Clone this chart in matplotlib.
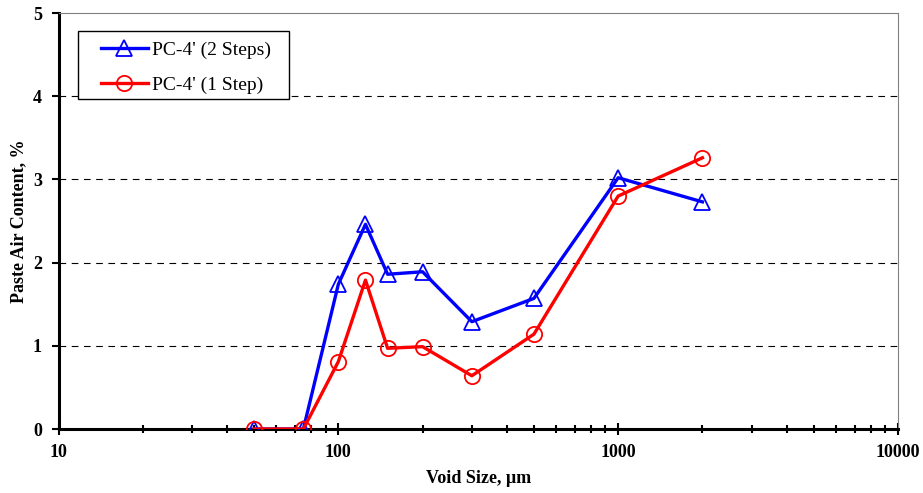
import matplotlib

matplotlib.use("Agg")
import matplotlib.pyplot as plt
from matplotlib.patches import Rectangle
from matplotlib.ticker import LogLocator, FixedLocator, NullFormatter

plt.rcParams["font.family"] = ["Liberation Serif", "DejaVu Serif"]

# data
void_size = [50, 75, 100, 125, 150, 200, 300, 500, 1000, 2000]
two_steps = [0, 0, 1.74, 2.46, 1.86, 1.89, 1.29, 1.57, 3.02, 2.73]
one_step = [0, 0, 0.81, 1.79, 0.97, 0.99, 0.64, 1.14, 2.80, 3.26]
x_ticks = [10, 100, 1000, 10000]
y_ticks = [0, 1, 2, 3, 4, 5]

fig = plt.figure(figsize=(9.23, 4.93), dpi=100)
ax = fig.add_axes([0.0634, 0.1298, 0.9095, 0.8438])

ax.plot(void_size, two_steps, color="#0000ff", lw=2.4, marker="^", ms=12,
        mfc="none", mec="#0000ff", mew=1.3, label="PC-4' (2 Steps)", zorder=3)
ax.plot(void_size, one_step, color="#ff0000", lw=2.4, marker="o", ms=11,
        mfc="none", mec="#ff0000", mew=1.3, label="PC-4' (1 Step)", zorder=4)

ax.set_xscale("log")
ax.set_xlim(10, 10000)
ax.set_ylim(0, 5)
ax.xaxis.set_major_locator(FixedLocator(x_ticks))
ax.xaxis.set_minor_locator(LogLocator(base=10, subs=range(2, 10)))
ax.xaxis.set_minor_formatter(NullFormatter())
ax.set_xticklabels([str(t) for t in x_ticks])
ax.set_yticks(y_ticks)

for y in y_ticks[1:-1]:
    ax.axhline(y, color="black", lw=0.8, dashes=(6, 5), zorder=1)

ax.tick_params(axis="x", which="major", direction="inout", length=8, width=1.5,
               pad=7, labelsize=13)
ax.tick_params(axis="x", which="minor", direction="inout", length=6, width=1.5)
ax.tick_params(axis="y", which="major", direction="out", length=5, width=1.5,
               pad=7, labelsize=13)
for lab in ax.get_xticklabels() + ax.get_yticklabels():
    lab.set_fontweight("bold")

for side in ("left", "bottom"):
    ax.spines[side].set_linewidth(2.2)
    ax.spines[side].set_color("black")
for side in ("top", "right"):
    ax.spines[side].set_linewidth(0.8)
    ax.spines[side].set_color("#808080")

ax.set_xlabel("Void Size, µm", fontsize=13, fontweight="bold", labelpad=6)
ax.set_ylabel("Paste Air Content, %", fontsize=13, fontweight="bold", labelpad=4)

# legend box drawn separately so the side padding can be wider than top/bottom
box = Rectangle((0.0232, 0.793), 0.2514, 0.1637, transform=ax.transAxes,
                facecolor="white", edgecolor="black", lw=1.0, zorder=5)
ax.add_patch(box)
leg = ax.legend(loc="upper left", bbox_to_anchor=(0.0506, 0.933), borderaxespad=0,
                fontsize=14, frameon=False, borderpad=0, handlelength=2.4,
                labelspacing=0.9, handletextpad=0.2)
leg.set_zorder(6)

fig.savefig("out.png", dpi=100)
